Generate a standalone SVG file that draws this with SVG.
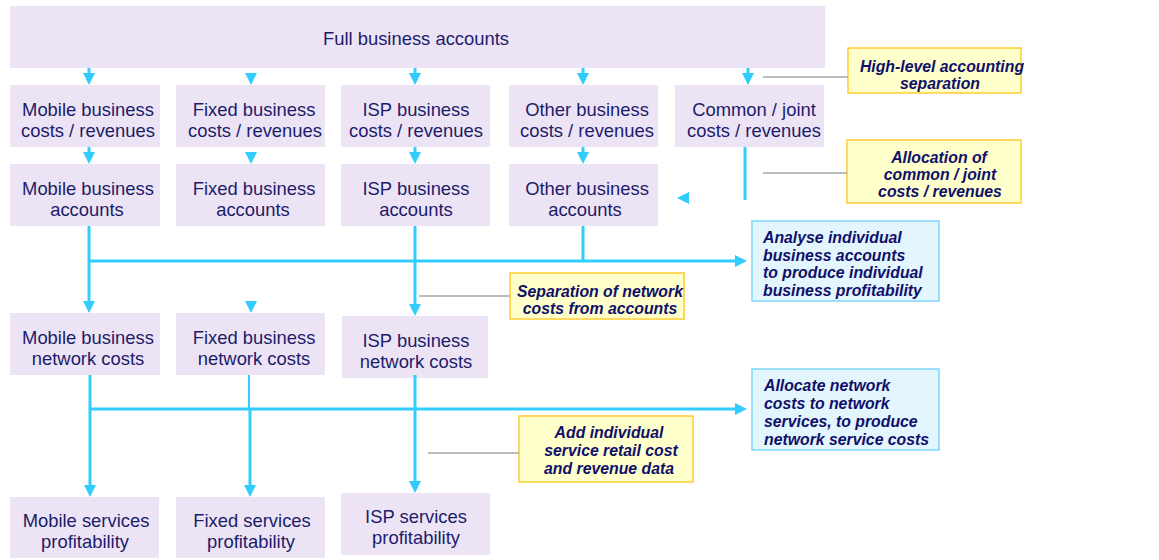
<svg xmlns="http://www.w3.org/2000/svg" width="1159" height="560" viewBox="0 0 1159 560">
<style>
.node{fill:#ECE4F4;stroke:none}
.nt{font-family:"Liberation Sans",Arial,sans-serif;font-size:18.4px;fill:#1C1C6B;text-anchor:middle}
.note{fill:#FFFFCC;stroke:#FFCC33;stroke-width:1.5}
.info{fill:#E3F5FD;stroke:#7FD6FA;stroke-width:1.5}
.at{font-family:"Liberation Sans",Arial,sans-serif;font-size:15.8px;font-weight:bold;font-style:italic;fill:#10106A}
.c{text-anchor:middle}
.conn{fill:none;stroke:#33CCFF;stroke-width:3}
.thin{fill:none;stroke:#33CCFF;stroke-width:2}
.arr{marker-end:url(#tri)}
.stub{fill:none;stroke:none;marker-end:url(#tri)}
.lead{fill:none;stroke:#A6A6A6;stroke-width:1.5}
</style>
<defs>
<marker id="tri" viewBox="0 0 12 12" markerWidth="12" markerHeight="12" markerUnits="userSpaceOnUse" refX="0" refY="6" orient="auto">
<path d="M0,0 L12,6 L0,12 Z" fill="#33CCFF"/>
</marker>
</defs>
<rect width="1159" height="560" fill="#FFFFFF"/>

<g id="n-full"><rect class="node" x="10" y="6" width="815" height="62"/><text class="nt" x="416" y="45">Full business accounts</text></g>

<g id="n-mobile-cr"><rect class="node" x="10" y="85" width="150" height="62"/><text class="nt" x="88" y="116">Mobile business</text><text class="nt" x="88" y="137">costs / revenues</text></g>
<g id="n-fixed-cr"><rect class="node" x="176" y="85" width="149" height="62"/><text class="nt" x="254" y="116">Fixed business</text><text class="nt" x="255" y="137">costs / revenues</text></g>
<g id="n-isp-cr"><rect class="node" x="341" y="85" width="149" height="62"/><text class="nt" x="416" y="116">ISP business</text><text class="nt" x="416" y="137">costs / revenues</text></g>
<g id="n-other-cr"><rect class="node" x="509" y="85" width="149" height="62"/><text class="nt" x="587" y="116">Other business</text><text class="nt" x="587" y="137">costs / revenues</text></g>
<g id="n-common-cr"><rect class="node" x="675" y="85" width="149" height="62"/><text class="nt" x="754" y="116">Common / joint</text><text class="nt" x="754" y="137">costs / revenues</text></g>

<g id="n-mobile-acc"><rect class="node" x="10" y="164" width="150" height="62"/><text class="nt" x="88" y="195">Mobile business</text><text class="nt" x="87" y="216">accounts</text></g>
<g id="n-fixed-acc"><rect class="node" x="176" y="164" width="149" height="62"/><text class="nt" x="254" y="195">Fixed business</text><text class="nt" x="253" y="216">accounts</text></g>
<g id="n-isp-acc"><rect class="node" x="341" y="164" width="149" height="62"/><text class="nt" x="416" y="195">ISP business</text><text class="nt" x="416" y="216">accounts</text></g>
<g id="n-other-acc"><rect class="node" x="509" y="164" width="149" height="62"/><text class="nt" x="587" y="195">Other business</text><text class="nt" x="585" y="216">accounts</text></g>

<g id="n-mobile-net"><rect class="node" x="10" y="313" width="150" height="62"/><text class="nt" x="88" y="344">Mobile business</text><text class="nt" x="88" y="365">network costs</text></g>
<g id="n-fixed-net"><rect class="node" x="176" y="313" width="149" height="62"/><text class="nt" x="254" y="344">Fixed business</text><text class="nt" x="254" y="365">network costs</text></g>
<g id="n-isp-net"><rect class="node" x="342" y="316" width="146" height="62"/><text class="nt" x="416" y="347">ISP business</text><text class="nt" x="416" y="368">network costs</text></g>

<g id="n-mobile-prof"><rect class="node" x="10" y="497" width="149" height="61"/><text class="nt" x="86" y="527">Mobile services</text><text class="nt" x="85" y="548">profitability</text></g>
<g id="n-fixed-prof"><rect class="node" x="176" y="497" width="149" height="61"/><text class="nt" x="252" y="527">Fixed services</text><text class="nt" x="251" y="548">profitability</text></g>
<g id="n-isp-prof"><rect class="node" x="341" y="493" width="149" height="62"/><text class="nt" x="416" y="523">ISP services</text><text class="nt" x="416" y="544">profitability</text></g>

<g id="note-high"><rect class="note" x="848" y="48" width="173" height="45"/><text class="at c" x="942" y="72">High-level accounting</text><text class="at c" x="940" y="89">separation</text></g>
<g id="note-alloc"><rect class="note" x="847" y="140" width="174" height="63"/><text class="at c" x="939" y="163">Allocation of</text><text class="at c" x="940" y="180">common / joint</text><text class="at c" x="940" y="197">costs / revenues</text></g>
<g id="note-sep"><rect class="note" x="510" y="273" width="174" height="46"/><text class="at c" x="600" y="297">Separation of network</text><text class="at c" x="600" y="314">costs from accounts</text></g>
<g id="note-add"><rect class="note" x="519" y="416" width="174" height="66"/><text class="at c" x="609" y="438">Add individual</text><text class="at c" x="611" y="456">service retail cost</text><text class="at c" x="609" y="474">and revenue data</text></g>

<g id="info-analyse"><rect class="info" x="752" y="221" width="187" height="80"/><text class="at" x="763" y="243">Analyse individual</text><text class="at" x="763" y="261">business accounts</text><text class="at" x="763" y="278">to produce individual</text><text class="at" x="763" y="296">business profitability</text></g>
<g id="info-allocate"><rect class="info" x="752" y="369" width="187" height="81"/><text class="at" x="764" y="391">Allocate network</text><text class="at" x="764" y="409">costs to network</text><text class="at" x="764" y="427">services, to produce</text><text class="at" x="764" y="445">network service costs</text></g>

<g id="connectors">
<path class="conn arr" d="M89 68 V73"/>
<path class="stub" d="M251 72 V73"/>
<path class="conn arr" d="M415 68 V73"/>
<path class="conn arr" d="M583 68 V73"/>
<path class="conn arr" d="M748 68 V73"/>

<path class="conn arr" d="M89 147 V152"/>
<path class="stub" d="M251 151 V152"/>
<path class="conn arr" d="M415 147 V152"/>
<path class="conn arr" d="M583 147 V152"/>

<path class="conn" d="M745 147 V200"/>
<path class="stub" d="M690 198 H689"/>

<path class="conn arr" d="M89 226 V301"/>
<path class="conn arr" d="M89 261 H735"/>
<path class="conn" d="M583 226 V261"/>
<path class="conn arr" d="M415 226 V304"/>
<path class="stub" d="M251 300 V301"/>

<path class="conn arr" d="M90 375 V485"/>
<path class="conn arr" d="M90 409 H735"/>
<path class="thin" d="M249 375 V409"/>
<path class="conn arr" d="M250 409 V485"/>
<path class="conn arr" d="M415 375 V481"/>

<path class="lead" d="M763 77 H848"/>
<path class="lead" d="M763 173 H847"/>
<path class="lead" d="M419 296 H510"/>
<path class="lead" d="M428 453 H519"/>
</g>
</svg>
